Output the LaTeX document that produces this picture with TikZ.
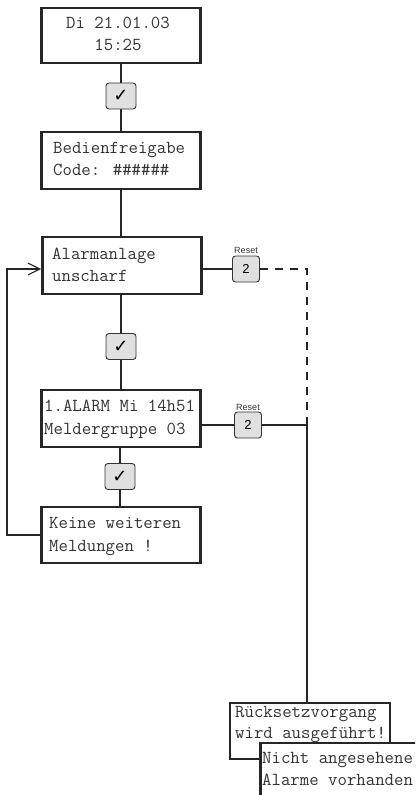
\documentclass[tikz,border=0pt]{standalone}
\usepackage{fontspec}
\setsansfont{Liberation Sans}
\newfontfamily\symfont{DejaVu Sans}
\usetikzlibrary{arrows.meta,backgrounds}
\begin{document}
\begin{tikzpicture}[x=1pt,y=-1pt,
 lcd/.style={draw=black!85, line width=2.6pt, fill=white, inner sep=0pt, minimum width=159pt},
 txt/.style={font=\ttfamily\fontsize{18.3}{20}\selectfont, text=black!80, inner sep=0pt, anchor=base west},
 ctxt/.style={txt, anchor=base},
 key/.style={draw=black!80, line width=0.9pt, rounded corners=3pt, fill=black!12, minimum width=27pt, minimum height=26pt, inner sep=0pt, font=\sffamily\fontsize{13}{13}\selectfont},
 chk/.style={key, minimum width=30pt, font=\symfont\fontsize{18}{18}\selectfont},
 lab/.style={font=\sffamily\fontsize{9}{9}\selectfont, inner sep=0pt, text=black!80},
 wire/.style={draw=black!85, line width=1.1pt},
 dwire/.style={wire, dash pattern=on 8pt off 7pt}]
\useasboundingbox (0,0) rectangle (415,795);
\clip (0,0) rectangle (415,795);

% boxes
\node[lcd, minimum height=55pt] (b1) at (121,35.5) {};
\node[chk] (c1) at (121,96) {✓};
\node[lcd, minimum height=57pt] (b2) at (121,160.5) {};
\node[lcd, minimum height=57pt] (b3) at (122,265.5) {};
\node[chk] (c2) at (121,346.5) {✓};
\node[lcd, minimum height=57pt] (b4) at (121,418.5) {};
\node[chk] (c3) at (120,476.5) {✓};
\node[lcd, minimum height=56pt] (b5) at (121,535) {};
\node[key] (k1) at (246,269) {2};
\node[lab] (r1) at (246,250) {Reset};
\node[key] (k2) at (248,425) {2};
\node[lab] (r2) at (248,407) {Reset};
\node[lcd, minimum height=56pt, minimum width=160pt] (b6) at (310,731) {};
\node[lcd, minimum height=57pt] (b7) at (340,771.5) {};

% texts
\node[ctxt] (t1a) at (118,28) {Di 21.01.03};
\node[ctxt] (t1b) at (118,50) {15:25};
\node[txt] (t2a) at (53,153) {Bedienfreigabe};
\node[txt] (t2b) at (53,175) {Code: \#\#\#\#\#\#};
\node[txt] (t3a) at (52,259) {Alarmanlage};
\node[txt] (t3b) at (52,281) {unscharf};
\node[txt] (t4a) at (44,411) {1.ALARM Mi 14h51};
\node[txt] (t4b) at (44,434) {Meldergruppe 03};
\node[txt] (t5a) at (49,528) {Keine weiteren};
\node[txt] (t5b) at (49,551) {Meldungen !};
\node[txt] (t6a) at (235,717) {Rücksetzvorgang};
\node[txt] (t6b) at (235,738) {wird ausgeführt!};
\node[txt] (t7a) at (262,763) {Nicht angesehene};
\node[txt] (t7b) at (262,785) {Alarme vorhanden};

% connectors
\begin{scope}[on background layer]
\draw[wire] (b1.south) -- (c1.north);
\draw[wire] (c1.south) -- (b2.south |- b2.north);
\draw[wire] (b2.south) -- (b2.south |- b3.north);
\draw[wire] (b3.south -| c2) -- (c2.north);
\draw[wire] (c2.south) -- (c2.south |- b4.north);
\draw[wire] (b4.south -| c3) -- (c3.north);
\draw[wire] (c3.south) -- (c3.south |- b5.north);

\coordinate (lp) at (7,0);
\draw[wire, -{Straight Barb[length=12pt,width=12pt,line width=1.1pt]}]
  (b5.west) -- (b5.west -| lp) -- (lp |- k1) -- (b3.west |- k1);

\draw[wire] (b3.east |- k1) -- (k1.west);
\draw[wire] (b4.east |- k2) -- (k2.west);

\coordinate (rv) at (307,0);
\draw[dwire] (k1.east) -- (k1.east -| rv) -- (rv |- k2);
\draw[wire] (k2.east) -- (k2.east -| rv) -- (rv |- b6.north);
\end{scope}
\end{tikzpicture}
\end{document}
